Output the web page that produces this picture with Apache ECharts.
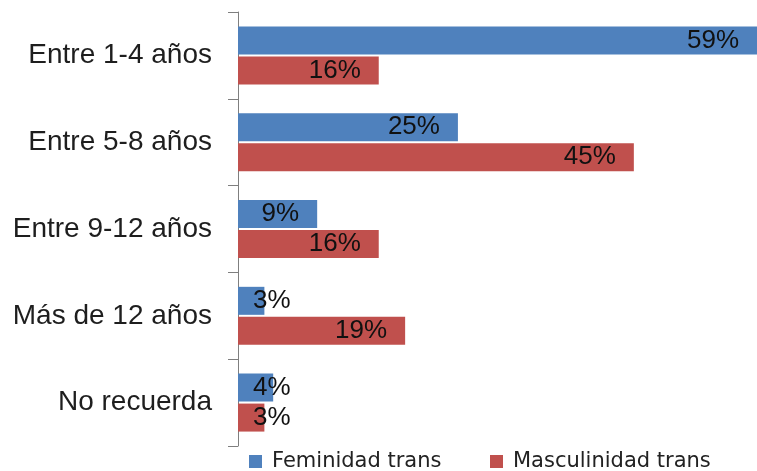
<!DOCTYPE html>
<html>
<head>
<meta charset="utf-8">
<script src="https://cdn.jsdelivr.net/npm/echarts@6/dist/echarts.min.js"></script>
<style>html,body{margin:0;padding:0;background:#fff;}#c{width:757px;height:471px;}</style>
</head>
<body>
<div id="c"></div>
<script>
var categories = ['Entre 1-4 años', 'Entre 5-8 años', 'Entre 9-12 años', 'Más de 12 años', 'No recuerda'];
var feminidad = [59, 25, 9, 3, 4];
var masculinidad = [16, 45, 16, 19, 3];
var seriesNames = ['Feminidad trans', 'Masculinidad trans'];
var colors = ['#4F81BD', '#C0504D'];

function toData(arr) {
  return arr.map(function (v) {
    var small = v < 6;
    return {
      value: v,
      label: small ? { position: 'insideLeft', distance: 15 } : { position: 'insideRight', distance: 18 }
    };
  });
}

var labelStyle = {
  show: true,
  formatter: '{c}%',
  color: '#111',
  fontFamily: 'Liberation Sans',
  fontSize: 26
};

var chart = echarts.init(document.getElementById('c'), null, { renderer: 'canvas' });
chart.setOption({
  animation: false,
  backgroundColor: '#fff',
  grid: { left: 238, right: 0, top: 12, bottom: 25, containLabel: false },
  xAxis: {
    type: 'value', min: 0, max: 59, show: false
  },
  yAxis: {
    type: 'category',
    inverse: true,
    data: categories,
    axisLine: { show: true, lineStyle: { color: '#7f7f7f', width: 1 } },
    axisTick: { show: true, length: 10, lineStyle: { color: '#7f7f7f' } },
    axisLabel: { margin: 26, color: '#1e1e1e', fontFamily: 'Liberation Sans', fontSize: 28 },
    splitLine: { show: false }
  },
  legend: [
    {
      data: [seriesNames[0]], left: 249, top: 451, icon: 'rect',
      itemWidth: 13, itemHeight: 13, padding: 0,
      textStyle: { fontFamily: 'DejaVu Sans', fontSize: 21, color: '#222', padding: [0, 0, 0, 5] }
    },
    {
      data: [seriesNames[1]], left: 490, top: 451, icon: 'rect',
      itemWidth: 13, itemHeight: 13, padding: 0,
      textStyle: { fontFamily: 'DejaVu Sans', fontSize: 21, color: '#222', padding: [0, 0, 0, 5] }
    }
  ],
  series: [
    {
      name: seriesNames[0], type: 'bar', data: toData(feminidad),
      itemStyle: { color: colors[0] }, barWidth: 28, barGap: '7%',
      label: labelStyle
    },
    {
      name: seriesNames[1], type: 'bar', data: toData(masculinidad),
      itemStyle: { color: colors[1] }, barWidth: 28, barGap: '7%',
      label: labelStyle
    }
  ]
});
</script>
</body>
</html>
